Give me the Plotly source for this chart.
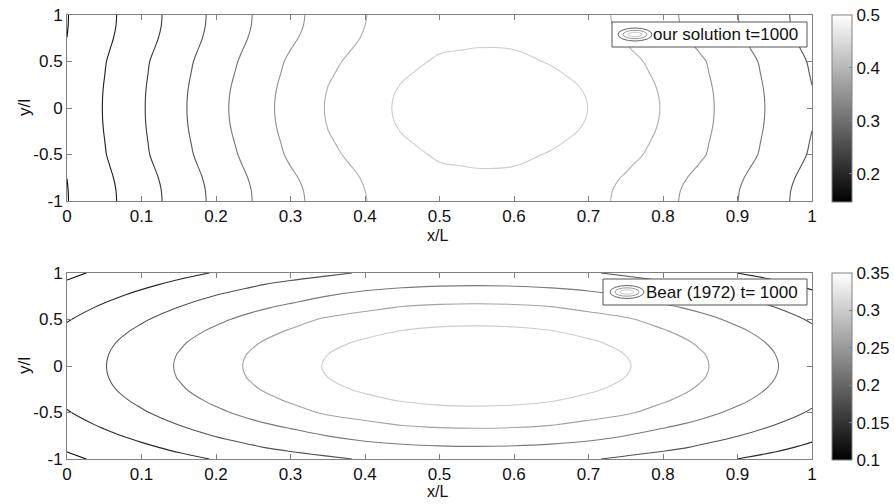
import plotly.graph_objects as go

# ---------------- data ----------------
x_grid = [0.0, 0.05, 0.1, 0.15, 0.2, 0.25, 0.3, 0.35, 0.4, 0.45, 0.5,
          0.55, 0.6, 0.65, 0.7, 0.75, 0.8, 0.85, 0.9, 0.95, 1.0]
y_grid = [-1.0, -0.875, -0.75, -0.625, -0.5, -0.375, -0.25, -0.125, 0.0,
          0.125, 0.25, 0.375, 0.5, 0.625, 0.75, 0.875, 1.0]

# "our solution t=1000": concentration along rows |y| = const
top_y0 = [0.158, 0.197, 0.236, 0.276, 0.317, 0.355, 0.390, 0.423, 0.447, 0.472, 0.491,
          0.4995, 0.497, 0.485, 0.4645, 0.442, 0.418, 0.387, 0.355, 0.321, 0.287]
top_y0125 = [0.1577, 0.1967, 0.2357, 0.2756, 0.3163, 0.3543, 0.3893, 0.4221, 0.446, 0.4707, 0.4894,
             0.4978, 0.4953, 0.4833, 0.4633, 0.4411, 0.4173, 0.3865, 0.3545, 0.3205, 0.2865]
top_y025 = [0.1567, 0.1957, 0.2347, 0.2742, 0.3143, 0.3521, 0.3873, 0.4195, 0.4431, 0.4666, 0.4847,
            0.4925, 0.4901, 0.4781, 0.4596, 0.4384, 0.4152, 0.3849, 0.353, 0.3191, 0.2849]
top_y0375 = [0.1552, 0.1942, 0.2331, 0.2721, 0.3112, 0.3488, 0.3842, 0.4155, 0.4386, 0.4603, 0.4774,
             0.4843, 0.4821, 0.4701, 0.4533, 0.4342, 0.4119, 0.3825, 0.3507, 0.317, 0.2825]
top_y05 = [0.1537, 0.1927, 0.2315, 0.270, 0.308, 0.3455, 0.381, 0.4115, 0.434, 0.454, 0.470,
           0.476, 0.474, 0.462, 0.447, 0.430, 0.4086, 0.380, 0.3483, 0.3148, 0.280]
top_y0625 = [0.1519, 0.1893, 0.2272, 0.2655, 0.3035, 0.3405, 0.375, 0.4049, 0.4288, 0.450, 0.4625,
             0.4665, 0.4652, 0.458, 0.442, 0.4236, 0.4009, 0.3727, 0.3421, 0.3089, 0.275]
top_y075 = [0.1501, 0.1859, 0.2228, 0.2609, 0.2989, 0.3354, 0.3691, 0.3982, 0.4235, 0.4421, 0.4533,
            0.458, 0.4572, 0.449, 0.4369, 0.4171, 0.3931, 0.3653, 0.3359, 0.303, 0.2699]
top_y0875 = [0.149, 0.1837, 0.22, 0.258, 0.296, 0.3321, 0.3653, 0.3939, 0.4201, 0.4383, 0.4502,
             0.4555, 0.4545, 0.4467, 0.4336, 0.4129, 0.3882, 0.3606, 0.3319, 0.2993, 0.2666]
top_y1 = [0.1486, 0.183, 0.219, 0.257, 0.295, 0.331, 0.364, 0.3925, 0.419, 0.437, 0.449,
          0.4546, 0.4536, 0.446, 0.4325, 0.4115, 0.3865, 0.359, 0.3306, 0.298, 0.2655]

# "Bear (1972) t= 1000"
bot_y0 = [0.167, 0.1887, 0.2109, 0.2331, 0.2551, 0.2759, 0.2944, 0.313, 0.3292, 0.3408, 0.3477,
          0.35, 0.3476, 0.3406, 0.329, 0.3127, 0.2938, 0.2749, 0.2539, 0.2322, 0.2106]
bot_y0125 = [0.166, 0.1874, 0.2093, 0.2313, 0.253, 0.2737, 0.2918, 0.3099, 0.326, 0.3376, 0.3445,
             0.3468, 0.3444, 0.3374, 0.3258, 0.3096, 0.2913, 0.2728, 0.2519, 0.2304, 0.2089]
bot_y025 = [0.1631, 0.1835, 0.2045, 0.2257, 0.2465, 0.2671, 0.2841, 0.3005, 0.3162, 0.3278, 0.3347,
            0.337, 0.3346, 0.3276, 0.316, 0.3001, 0.2836, 0.2663, 0.2457, 0.2249, 0.2036]
bot_y0375 = [0.1567, 0.1765, 0.1964, 0.2164, 0.2362, 0.2554, 0.2731, 0.2862, 0.2993, 0.3114, 0.3171,
             0.319, 0.3171, 0.3113, 0.299, 0.286, 0.2729, 0.255, 0.2358, 0.216, 0.196]
bot_y05 = [0.1477, 0.1669, 0.1862, 0.2048, 0.2233, 0.2408, 0.2576, 0.2752, 0.2857, 0.2931, 0.2976,
           0.299, 0.2974, 0.2929, 0.2853, 0.2747, 0.2569, 0.2401, 0.2227, 0.2045, 0.1864]
bot_y0625 = [0.1369, 0.1554, 0.1734, 0.1913, 0.2076, 0.2238, 0.2378, 0.2504, 0.263, 0.2729, 0.2773,
             0.2788, 0.2772, 0.2726, 0.2625, 0.2499, 0.2373, 0.2232, 0.2071, 0.191, 0.1731]
bot_y075 = [0.1255, 0.1423, 0.1589, 0.1755, 0.1916, 0.2045, 0.2175, 0.2305, 0.241, 0.2484, 0.2529,
            0.2543, 0.2527, 0.2482, 0.2406, 0.2298, 0.217, 0.204, 0.191, 0.1748, 0.1583]
bot_y0875 = [0.1141, 0.1287, 0.1433, 0.1578, 0.1722, 0.1865, 0.1993, 0.2096, 0.2175, 0.2232, 0.2266,
             0.2277, 0.2265, 0.223, 0.2173, 0.2092, 0.1989, 0.186, 0.1717, 0.1574, 0.1431]
bot_y1 = [0.1037, 0.1159, 0.128, 0.1403, 0.1521, 0.1626, 0.1731, 0.1836, 0.1934, 0.2, 0.204,
          0.2053, 0.204, 0.2, 0.1934, 0.1833, 0.1722, 0.1611, 0.1498, 0.139, 0.128]

top_levels = dict(start=0.15, end=0.47, size=0.045)
bot_levels = dict(start=0.11, end=0.315, size=0.04)
top_crange = [0.147, 0.5]
bot_crange = [0.1, 0.35]

x_ticks = [0, 0.1, 0.2, 0.3, 0.4, 0.5, 0.6, 0.7, 0.8, 0.9, 1]
x_ticktext = ["0", "0.1", "0.2", "0.3", "0.4", "0.5", "0.6", "0.7", "0.8", "0.9", "1"]
y_ticks = [-1, -0.5, 0, 0.5, 1]
y_ticktext = ["-1", "-0.5", "0", "0.5", "1"]
top_cb_ticks = [0.2, 0.3, 0.4, 0.5]
top_cb_text = ["0.2", "0.3", "0.4", "0.5"]
bot_cb_ticks = [0.1, 0.15, 0.2, 0.25, 0.3, 0.35]
bot_cb_text = ["0.1", "0.15", "0.2", "0.25", "0.3", "0.35"]

top_label = "our solution t=1000"
bot_label = "Bear (1972) t= 1000"

# ---------------- build ----------------
W, H = 894, 504
FONT = "Liberation Sans, Arial, sans-serif"
GRAY = [[0, "#000000"], [1, "#ffffff"]]
LINE_GRAY = [[0, "#000000"], [1, "#cccccc"]]
AX = "#808080"


def fx(p):
    return p / W


def fy(p):
    return 1 - p / H


top_half = [top_y0, top_y0125, top_y025, top_y0375, top_y05, top_y0625, top_y075, top_y0875, top_y1]
top_z = top_half[::-1] + top_half[1:]
bot_half = [bot_y0, bot_y0125, bot_y025, bot_y0375, bot_y05, bot_y0625, bot_y075, bot_y0875, bot_y1]
bot_z = bot_half[::-1] + bot_half[1:]

fig = go.Figure()


def add_panel(z, levels, crange, xa, ya, cb_top, cb_bot, cbt, cbtxt):
    fig.add_trace(go.Contour(
        x=x_grid, y=y_grid, z=z, xaxis=xa, yaxis=ya,
        contours=dict(coloring="lines", **levels),
        colorscale=LINE_GRAY, zmin=crange[0], zmax=crange[1], zauto=False,
        line=dict(width=1.1, smoothing=1.0), showscale=False, hoverinfo="skip",
    ))
    fig.add_trace(go.Scatter(
        x=[0.5], y=[0], xaxis=xa, yaxis=ya, mode="markers", hoverinfo="skip",
        showlegend=False,
        marker=dict(size=1, opacity=0, color=[crange[0]], colorscale=GRAY,
                    cmin=crange[0], cmax=crange[1], showscale=True,
                    colorbar=dict(x=fx(832), xanchor="left", y=fy(cb_top), yanchor="top",
                                  len=(cb_bot - cb_top) / H, lenmode="fraction",
                                  thickness=20, thicknessmode="pixels", xpad=0, ypad=0,
                                  outlinewidth=1, outlinecolor=AX,
                                  ticks="inside", ticklen=3, tickcolor=AX,
                                  tickvals=cbt, ticktext=cbtxt,
                                  tickfont=dict(family=FONT, size=17, color="#111"))),
    ))


add_panel(top_z, top_levels, top_crange, "x", "y", 15, 202, top_cb_ticks, top_cb_text)
add_panel(bot_z, bot_levels, bot_crange, "x2", "y2", 273, 460, bot_cb_ticks, bot_cb_text)

axis_common = dict(showgrid=False, zeroline=False, showline=True, linecolor=AX, linewidth=1,
                   mirror="ticks", ticks="inside", ticklen=5, tickcolor=AX,
                   tickfont=dict(family=FONT, size=17, color="#111"))

fig.update_layout(
    width=W, height=H, margin=dict(l=0, r=0, t=0, b=0, autoexpand=False),
    paper_bgcolor="white", plot_bgcolor="white", showlegend=False,
    xaxis=dict(domain=[fx(67), fx(812)], anchor="y", range=[0, 1],
               tickvals=x_ticks, ticktext=x_ticktext, **axis_common),
    yaxis=dict(domain=[fy(201), fy(15)], anchor="x", range=[-1, 1],
               tickvals=y_ticks, ticktext=y_ticktext, **axis_common),
    xaxis2=dict(domain=[fx(67), fx(812)], anchor="y2", range=[0, 1],
                tickvals=x_ticks, ticktext=x_ticktext, **axis_common),
    yaxis2=dict(domain=[fy(459), fy(273)], anchor="x2", range=[-1, 1],
                tickvals=y_ticks, ticktext=y_ticktext, **axis_common),
)

annos = []
for cy_x, cy_y in [(235, 108), (491, 366)]:
    annos.append(dict(x=fx(437), y=fy(cy_x), xref="paper", yref="paper", text="x/L",
                      showarrow=False, xanchor="center", yanchor="middle",
                      font=dict(family=FONT, size=16, color="#111")))
    annos.append(dict(x=fx(24), y=fy(cy_y), xref="paper", yref="paper", text="y/l",
                      textangle=-90, showarrow=False, xanchor="center", yanchor="middle",
                      font=dict(family=FONT, size=17, color="#111")))

shapes = []


def legend_box(x0, x1, y0, y1, icon_cx, text, text_x):
    cy = (y0 + y1) / 2
    shapes.append(dict(type="rect", xref="paper", yref="paper", x0=fx(x0), x1=fx(x1),
                       y0=fy(y1), y1=fy(y0), fillcolor="white",
                       line=dict(color="#555555", width=1)))
    for hw, hh, col in [(17, 6.5, "#666666"), (12, 4.2, "#999999"), (7, 2.2, "#c8c8c8")]:
        shapes.append(dict(type="circle", xref="paper", yref="paper",
                           x0=fx(icon_cx - hw), x1=fx(icon_cx + hw),
                           y0=fy(cy + hh), y1=fy(cy - hh), line=dict(color=col, width=1)))
    annos.append(dict(x=fx(text_x), y=fy(cy), xref="paper", yref="paper", text=text,
                      showarrow=False, xanchor="left", yanchor="middle",
                      font=dict(family=FONT, size=17, color="#111")))


legend_box(612, 807, 22, 47, 635, top_label, 651)
legend_box(603, 807, 279, 305, 627, bot_label, 644)

fig.update_layout(annotations=annos, shapes=shapes)
fig.write_html("out.html", config={"displayModeBar": False},
               post_script="document.body.style.margin='0';document.body.style.overflow='hidden';")
